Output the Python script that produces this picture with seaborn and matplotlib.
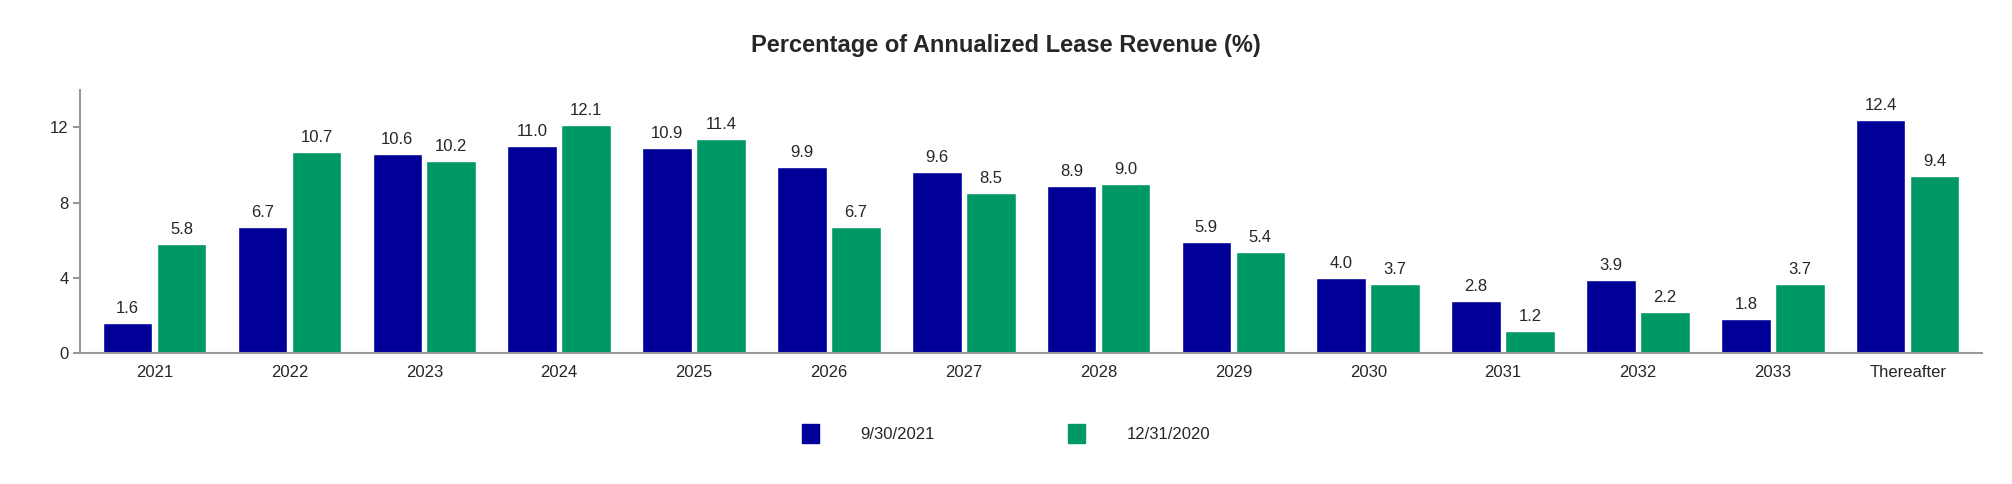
import matplotlib
matplotlib.use("Agg")
import matplotlib.pyplot as plt
import seaborn as sns
import pandas as pd

categories = ["2021","2022","2023","2024","2025","2026","2027","2028","2029","2030","2031","2032","2033","Thereafter"]
s_2021 = [1.6,6.7,10.6,11.0,10.9,9.9,9.6,8.9,5.9,4.0,2.8,3.9,1.8,12.4]
s_2020 = [5.8,10.7,10.2,12.1,11.4,6.7,8.5,9.0,5.4,3.7,1.2,2.2,3.7,9.4]
series = ["9/30/2021","12/31/2020"]
colors = ["#000099","#009966"]

df = pd.DataFrame({
    "cat": categories*2,
    "val": s_2021+s_2020,
    "series": [series[0]]*len(categories)+[series[1]]*len(categories),
})

sns.set_theme(style="white")
plt.rcParams['font.family'] = ['Liberation Sans', 'DejaVu Sans']
fig = plt.figure(figsize=(20.12,4.84), dpi=100)
ax = fig.add_axes([0.04,0.27,0.945,0.545])
sns.barplot(data=df, x="cat", y="val", hue="series", palette=colors, ax=ax,
            width=0.8, gap=0.08, legend=False, saturation=1)
for c in ax.containers:
    ax.bar_label(c, fmt="%.1f", padding=5, fontsize=12)
ax.set_ylim(0,14)
ax.set_yticks([0,4,8,12])
ax.set_xlim(-0.55,13.55)
ax.set_xlabel(""); ax.set_ylabel("")
ax.tick_params(axis='both', labelsize=12, length=5, color="#888888", left=True, bottom=False)
for s in ["top","right"]:
    ax.spines[s].set_visible(False)
for s in ["left","bottom"]:
    ax.spines[s].set_color("#999999"); ax.spines[s].set_linewidth(1.5)
fig.suptitle("Percentage of Annualized Lease Revenue (%)", y=0.93, fontsize=17, fontweight="bold")
from matplotlib.patches import Patch
handles = [Patch(color=c) for c in colors]
fig.legend(handles, series, loc="center", bbox_to_anchor=(0.5,0.105), ncol=2, frameon=False,
           fontsize=12, handlelength=1.0, handleheight=1.4, columnspacing=8, handletextpad=2.5)
fig.savefig("out.png", dpi=100)
